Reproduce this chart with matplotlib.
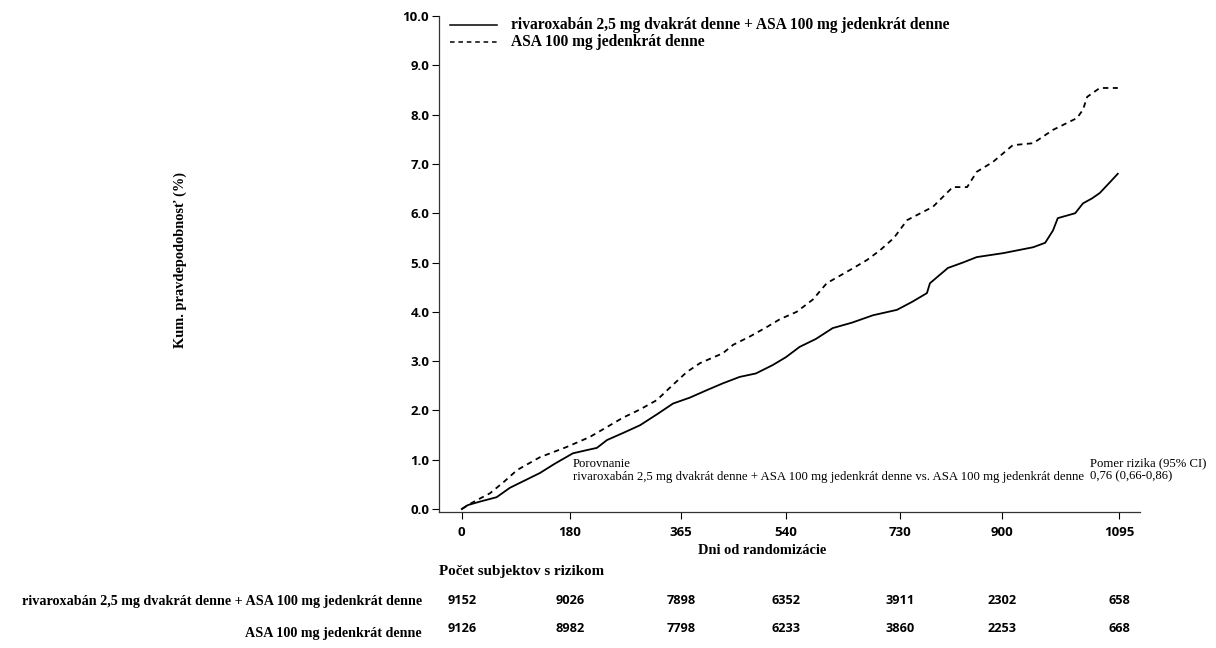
import matplotlib.pyplot as plt
from matplotlib.transforms import blended_transform_factory

# cumulative probability (%)
riva_days = [0, 10, 30, 58, 80, 105, 130, 155, 185, 210, 225, 242, 270, 297, 325, 352, 380, 408,
             435, 463, 490, 518, 540, 563, 590, 618, 650, 685, 725, 750, 775, 780, 810, 835, 858,
             902, 952, 972, 985, 993, 1022, 1035, 1050, 1063, 1080, 1093]
riva_vals = [0.0, 0.08, 0.15, 0.24, 0.43, 0.58, 0.73, 0.92, 1.13, 1.2, 1.24, 1.40, 1.55, 1.70, 1.92,
             2.14, 2.26, 2.41, 2.55, 2.68, 2.75, 2.92, 3.08, 3.29, 3.45, 3.67, 3.78, 3.93, 4.04, 4.2,
             4.38, 4.58, 4.89, 5.0, 5.11, 5.19, 5.31, 5.40, 5.65, 5.90, 6.00, 6.2, 6.3, 6.41, 6.63, 6.80]

asa_days = [0, 10, 25, 47, 70, 92, 130, 175, 213, 240, 268, 297, 325, 350, 375, 397, 435, 452, 480,
            508, 530, 558, 585, 608, 647, 675, 697, 720, 742, 785, 818, 842, 858, 885, 918, 952,
            985, 1025, 1035, 1042, 1063, 1093]
asa_vals = [0.0, 0.08, 0.18, 0.32, 0.55, 0.79, 1.05, 1.26, 1.46, 1.65, 1.85, 2.02, 2.21, 2.5, 2.78,
            2.96, 3.16, 3.33, 3.5, 3.69, 3.85, 4.0, 4.25, 4.58, 4.85, 5.05, 5.25, 5.5, 5.86, 6.13,
            6.53, 6.53, 6.84, 7.04, 7.38, 7.42, 7.69, 7.93, 8.1, 8.36, 8.54, 8.54]

x_ticks = [0, 180, 365, 540, 730, 900, 1095]
y_ticks = [0, 1, 2, 3, 4, 5, 6, 7, 8, 9, 10]

label_riva = "rivaroxabán 2,5 mg dvakrát denne + ASA 100 mg jedenkrát denne"
label_asa = "ASA 100 mg jedenkrát denne"
risk_riva = [9152, 9026, 7898, 6352, 3911, 2302, 658]
risk_asa = [9126, 8982, 7798, 6233, 3860, 2253, 668]

serif = "Liberation Serif"
sans = "Open Sans"

W, H = 1216, 648
fig = plt.figure(figsize=(W / 100, H / 100), dpi=100)
ax = fig.add_axes([439 / W, 1 - 512 / H, 701 / W, 496 / H])

ax.plot(riva_days, riva_vals, color="black", lw=1.3)
ax.plot(asa_days, asa_vals, color="black", lw=1.3, linestyle=(0, (3, 2.5)))

ax.set_xlim(-38, 1130)
ax.set_ylim(-0.06, 10.0)
ax.set_xticks(x_ticks)
ax.set_yticks(y_ticks)
ax.set_yticklabels([f"{v:.1f}" for v in y_ticks])
for lab in ax.get_xticklabels() + ax.get_yticklabels():
    lab.set_fontfamily(sans)
    lab.set_fontweight("bold")
    lab.set_fontsize(9.5)
ax.tick_params(axis="x", length=5, width=0.8, pad=5)
ax.tick_params(axis="y", length=5, width=0.8, pad=2)
ax.spines["top"].set_visible(False)
ax.spines["right"].set_visible(False)
for s in ("left", "bottom"):
    ax.spines[s].set_linewidth(0.9)
    ax.spines[s].set_color("#333333")

# legend drawn by hand
ax.plot([-20, 58], [9.81, 9.81], color="black", lw=1.1, clip_on=False)
ax.plot([-20, 58], [9.48, 9.48], color="black", lw=1.1, linestyle=(0, (3, 2.5)), clip_on=False)
ax.text(82, 9.81, label_riva, family=serif, weight="bold", fontsize=11.2, va="center")
ax.text(82, 9.48, label_asa, family=serif, weight="bold", fontsize=11.2, va="center")

ax.text(185, 0.79, "Porovnanie\n" + label_riva + " vs. " + label_asa,
        family=serif, fontsize=9.2, va="center", linespacing=1.1)
ax.text(1047, 0.79, "Pomer rizika (95% CI)\n0,76 (0,66-0,86)",
        family=serif, fontsize=9.2, va="center", linespacing=1.1)

fig.text(762 / W, 1 - 550 / H, "Dni od randomizácie", family=serif, weight="bold",
         fontsize=10.4, ha="center", va="center")
fig.text(180 / W, 1 - 260 / H, "Kum. pravdepodobnosť (%)", family=serif, weight="bold",
         fontsize=10.4, rotation=90, ha="center", va="center")

# risk table
fig.text(439 / W, 1 - 572 / H, "Počet subjektov s rizikom", family=serif, weight="bold",
         fontsize=10.8, ha="left", va="center")
fig.text(422 / W, 1 - 602 / H, label_riva, family=serif, weight="bold",
         fontsize=10.2, ha="right", va="center")
fig.text(422 / W, 1 - 633 / H, label_asa, family=serif, weight="bold",
         fontsize=10.2, ha="right", va="center")
tr = blended_transform_factory(ax.transData, fig.transFigure)
for d, a, b in zip(x_ticks, risk_riva, risk_asa):
    ax.text(d, 1 - 601 / H, str(a), transform=tr, family=sans, weight="bold",
            fontsize=9.2, ha="center", va="center", clip_on=False)
    ax.text(d, 1 - 629 / H, str(b), transform=tr, family=sans, weight="bold",
            fontsize=9.2, ha="center", va="center", clip_on=False)

fig.savefig("out.png", dpi=100)
